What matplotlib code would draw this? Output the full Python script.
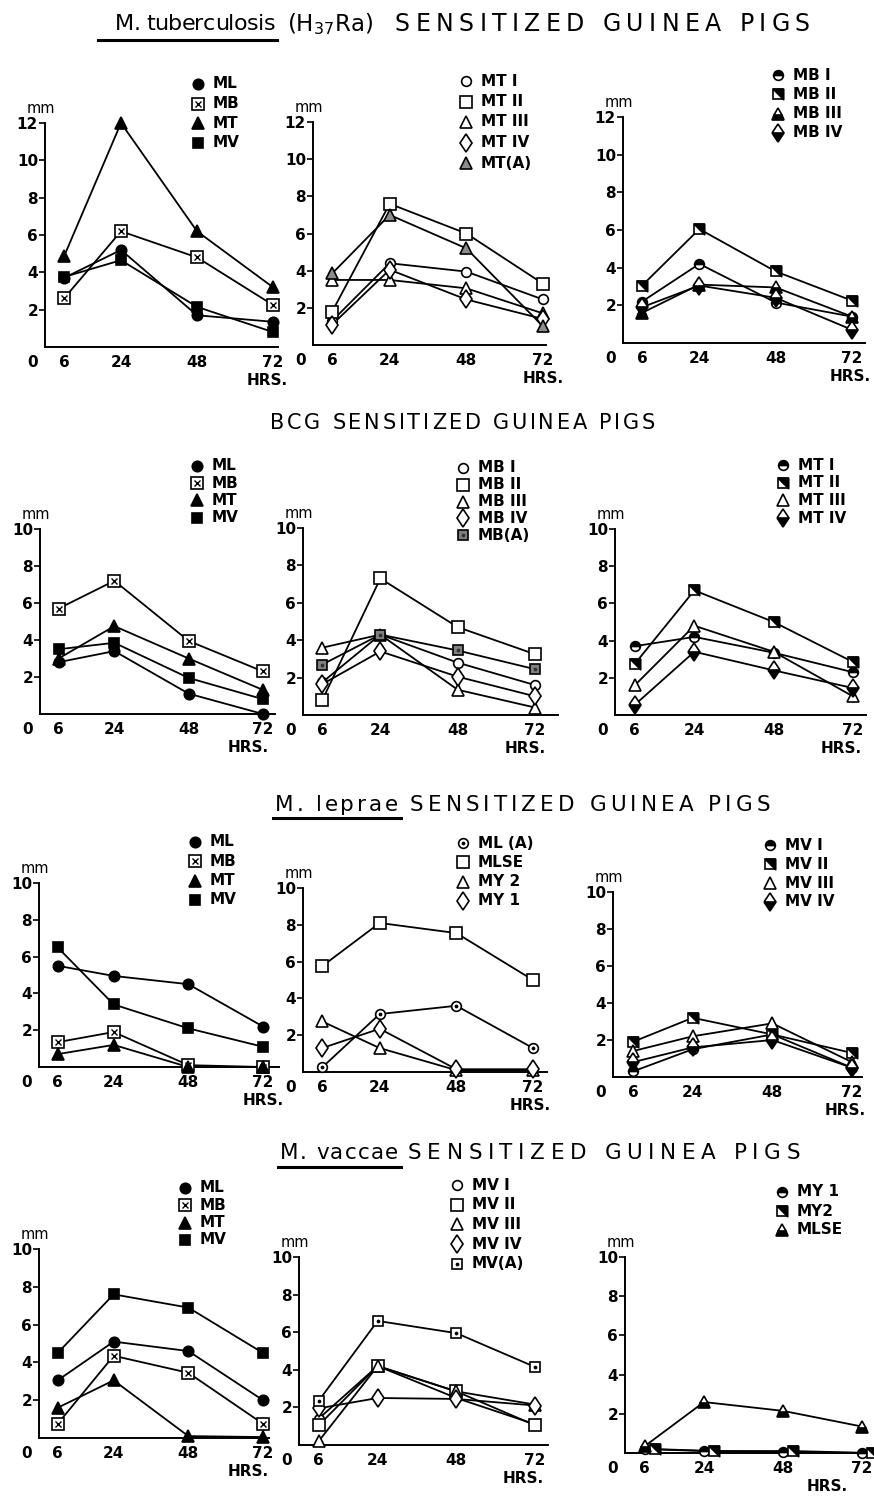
import matplotlib
matplotlib.use("Agg")
import matplotlib.pyplot as plt
from matplotlib.lines import Line2D

W, H = 874, 1501
hours = [6, 24, 48, 72]

# ---- M. tuberculosis (H37Ra) sensitized ----
tb_ml = [3.7, 5.2, 1.7, 1.35]
tb_mb = [2.6, 6.2, 4.8, 2.25]
tb_mt = [4.85, 12.0, 6.2, 3.2]
tb_mv = [3.75, 4.65, 2.15, 0.8]

tb_mt1 = [1.3, 4.4, 3.95, 2.45]
tb_mt2 = [1.8, 7.6, 6.0, 3.3]
tb_mt3 = [3.5, 3.5, 3.05, 1.7]
tb_mt4 = [1.1, 4.05, 2.45, 1.4]
tb_mta = [3.85, 7.0, 5.2, 1.0]

tb_mb1 = [2.2, 4.2, 2.15, 1.4]
tb_mb2 = [3.05, 6.05, 3.8, 2.25]
tb_mb3 = [1.6, 3.1, 2.95, 1.4]
tb_mb4 = [1.9, 3.05, 2.4, 0.7]

# ---- BCG sensitized ----
bcg_ml = [2.8, 3.4, 1.1, 0.0]
bcg_mb = [5.7, 7.2, 3.95, 2.3]
bcg_mt = [3.0, 4.75, 3.0, 1.3]
bcg_mv = [3.5, 3.85, 1.95, 0.8]

bcg_mb1 = [1.75, 4.3, 2.8, 1.6]
bcg_mb2 = [0.8, 7.3, 4.7, 3.25]
bcg_mb3 = [3.6, 4.3, 1.35, 0.4]
bcg_mb4 = [1.65, 3.4, 2.05, 1.0]
bcg_mba = [2.7, 4.3, 3.45, 2.45]

bcg_mt1 = [3.7, 4.2, 3.35, 2.3]
bcg_mt2 = [2.75, 6.7, 5.0, 2.85]
bcg_mt3 = [1.6, 4.8, 3.4, 1.0]
bcg_mt4 = [0.55, 3.4, 2.4, 1.45]

# ---- M. leprae sensitized ----
lep_ml = [5.5, 4.95, 4.5, 2.2]
lep_mb = [1.35, 1.9, 0.1, 0.0]
lep_mt = [0.7, 1.2, 0.0, 0.0]
lep_mv = [6.5, 3.4, 2.1, 1.1]

lep_mla = [0.25, 3.15, 3.6, 1.3]
lep_mlse = [5.75, 8.1, 7.55, 5.0]
lep_my2 = [2.75, 1.3, 0.1, 0.1]
lep_my1 = [1.3, 2.35, 0.15, 0.15]

lep_mv1 = [0.3, 1.5, 2.3, 0.5]
lep_mv2 = [1.9, 3.2, 2.3, 1.3]
lep_mv3 = [1.4, 2.2, 2.9, 0.8]
lep_mv4 = [0.8, 1.6, 2.0, 0.5]

# ---- M. vaccae sensitized ----
vac_ml = [3.05, 5.1, 4.6, 2.0]
vac_mb = [0.75, 4.35, 3.45, 0.75]
vac_mt = [1.6, 3.05, 0.1, 0.05]
vac_mv = [4.5, 7.6, 6.9, 4.5]

vac_mv1 = [1.4, 4.2, 2.5, 1.1]
vac_mv2 = [1.05, 4.2, 2.85, 1.05]
vac_mv3 = [0.2, 4.2, 2.85, 2.15]
vac_mv4 = [1.95, 2.5, 2.45, 2.1]
vac_mva = [2.35, 6.6, 5.95, 4.15]

vac_my1 = [0.2, 0.1, 0.05, 0.0]
vac_my2 = [0.2, 0.1, 0.1, 0.0]
vac_mlse = [0.35, 2.6, 2.15, 1.35]
hours_shift = [9, 27, 51, 75]

STYLES = {
    'fcircle': [dict(marker='o', mfc='k')],
    'fsquare': [dict(marker='s', mfc='k')],
    'ftri': [dict(marker='^', mfc='k', ms=8.5)],
    'xsquare': [dict(marker='s', mfc='w', ms=8), dict(marker='x', ms=4, mew=1.0)],
    'ocircle': [dict(marker='o', mfc='w', ms=7)],
    'osquare': [dict(marker='s', mfc='w', ms=8.5)],
    'otri': [dict(marker='^', mfc='w', ms=8)],
    'odiam': [dict(marker='d', mfc='w', ms=9.5)],
    'gtri': [dict(marker='^', mfc='0.55', ms=8.5)],
    'gsquare': [dict(marker='s', mfc='0.5'), dict(marker='.', ms=3, mfc='0.2', mec='0.2')],
    'dsquare': [dict(marker='s', mfc='w'), dict(marker='.', ms=3)],
    'dcircle': [dict(marker='o', mfc='w', ms=7), dict(marker='.', ms=3)],
    'hcircle': [dict(marker='o', mfc='k', fillstyle='top', mfcalt='w', ms=7)],
    'hsquare': [dict(marker='s', mfc='w'), dict(marker=[(-1, 1), (1, 1), (1, -1), (-1, 1)])],
    'htri': [dict(marker='^', mfc='k', fillstyle='bottom', mfcalt='w', ms=8.5)],
    'hdiam': [dict(marker='d', mfc='k', fillstyle='bottom', mfcalt='w', ms=9.5)],
}

# layout in pixels: y-axis x, x of 72 h, y of 0 mm, y of top tick, top value, x-axis end (h)
# leg: first marker x, first row y, row step; hrs: shift of "HRS." from the 72 label
panels = [
    dict(box=(45, 273, 347, 123, 12, 73.5), leg=(198, 84, 19.5), hrs=-6, series=[
        ('ML', hours, tb_ml, 'fcircle'), ('MB', hours, tb_mb, 'xsquare'),
        ('MT', hours, tb_mt, 'ftri'), ('MV', hours, tb_mv, 'fsquare')]),
    dict(box=(313, 543, 345, 122, 12, 73), leg=(466, 81, 20.5), hrs=0, series=[
        ('MT I', hours, tb_mt1, 'ocircle'), ('MT II', hours, tb_mt2, 'osquare'),
        ('MT III', hours, tb_mt3, 'otri'), ('MT IV', hours, tb_mt4, 'odiam'),
        ('MT(A)', hours, tb_mta, 'gtri')]),
    dict(box=(623, 852, 343, 117, 12, 76), leg=(778, 75, 19.3), hrs=-2, series=[
        ('MB I', hours, tb_mb1, 'hcircle'), ('MB II', hours, tb_mb2, 'hsquare'),
        ('MB III', hours, tb_mb3, 'htri'), ('MB IV', hours, tb_mb4, 'hdiam')]),
    dict(box=(40, 263, 714, 529, 10, 76), leg=(197, 466, 17.2), hrs=-15, series=[
        ('ML', hours, bcg_ml, 'fcircle'), ('MB', hours, bcg_mb, 'xsquare'),
        ('MT', hours, bcg_mt, 'ftri'), ('MV', hours, bcg_mv, 'fsquare')]),
    dict(box=(303, 535, 715, 528, 10, 79), leg=(463, 468, 16.8), hrs=-10, series=[
        ('MB I', hours, bcg_mb1, 'ocircle'), ('MB II', hours, bcg_mb2, 'osquare'),
        ('MB III', hours, bcg_mb3, 'otri'), ('MB IV', hours, bcg_mb4, 'odiam'),
        ('MB(A)', hours, bcg_mba, 'gsquare')]),
    dict(box=(615, 853, 715, 529, 10, 76), leg=(783, 465, 17.7), hrs=-12, series=[
        ('MT I', hours, bcg_mt1, 'hcircle'), ('MT II', hours, bcg_mt2, 'hsquare'),
        ('MT III', hours, bcg_mt3, 'otri'), ('MT IV', hours, bcg_mt4, 'hdiam')]),
    dict(box=(39, 263, 1067, 883, 10, 77), leg=(195, 842, 19.3), hrs=0, series=[
        ('ML', hours, lep_ml, 'fcircle'), ('MB', hours, lep_mb, 'xsquare'),
        ('MT', hours, lep_mt, 'ftri'), ('MV', hours, lep_mv, 'fsquare')]),
    dict(box=(303, 533, 1072, 888, 10, 76.5), leg=(463, 843, 19.3), hrs=-3, series=[
        ('ML (A)', hours, lep_mla, 'dcircle'), ('MLSE', hours, lep_mlse, 'osquare'),
        ('MY 2', hours, lep_my2, 'otri'), ('MY 1', hours, lep_my1, 'odiam')]),
    dict(box=(613, 852, 1077, 892, 10, 75), leg=(770, 845, 19.0), hrs=-7, series=[
        ('MV I', hours, lep_mv1, 'hcircle'), ('MV II', hours, lep_mv2, 'hsquare'),
        ('MV III', hours, lep_mv3, 'otri'), ('MV IV', hours, lep_mv4, 'hdiam')]),
    dict(box=(39, 263, 1438, 1249, 10, 74), leg=(185, 1188, 17.3), hrs=-15, series=[
        ('ML', hours, vac_ml, 'fcircle'), ('MB', hours, vac_mb, 'xsquare'),
        ('MT', hours, vac_mt, 'ftri'), ('MV', hours, vac_mv, 'fsquare')]),
    dict(box=(299, 535, 1445, 1257, 10, 76), leg=(457, 1185, 19.7), hrs=-12, series=[
        ('MV I', hours, vac_mv1, 'ocircle'), ('MV II', hours, vac_mv2, 'osquare'),
        ('MV III', hours, vac_mv3, 'otri'), ('MV IV', hours, vac_mv4, 'odiam'),
        ('MV(A)', hours, vac_mva, 'dsquare')]),
    dict(box=(625, 862, 1453, 1257, 10, 77), leg=(782, 1192, 19.0), hrs=-35, series=[
        ('MY 1', hours, vac_my1, 'hcircle'), ('MY2', hours_shift, vac_my2, 'hsquare'),
        ('MLSE', hours, vac_mlse, 'htri')]),
]

plt.rcParams['font.family'] = 'DejaVu Sans'

fig = plt.figure(figsize=(W / 100, H / 100), dpi=100)
renderer = fig.canvas.get_renderer()


def fx(x):
    return x / W


def fy(y):
    return 1 - y / H


def marker_kw(layer):
    kw = dict(color='k', linestyle='none', ms=7.5, mec='k', mew=1.2)
    kw.update(layer)
    return kw


def text_width(s, **kw):
    t = fig.text(0, 0, s, **kw)
    w = t.get_window_extent(renderer).width
    t.remove()
    return w


def spaced_text(s, x0, x1, y, **kw):
    # letter-spaced text stretched to run from x0 to x1 (pixels)
    space = text_width('M M', **kw) - text_width('MM', **kw)
    widths = [space if ch == ' ' else text_width(ch, **kw) for ch in s]
    gap = (x1 - x0 - sum(widths)) / (len(s) - 1)
    x = x0
    for ch, w in zip(s, widths):
        if ch != ' ':
            fig.text(fx(x), fy(y), ch, ha='left', va='center', **kw)
        x += w + gap


for p in panels:
    x0, x72, y0, ytop_px, ytop, xmax = p['box']
    wpx = (x72 - x0) * xmax / 72.0
    ax = fig.add_axes([fx(x0), fy(y0), wpx / W, (y0 - ytop_px) / H])
    ax.set_xlim(0, xmax)
    ax.set_ylim(0, ytop)
    ax.patch.set_alpha(0)
    for s in ('top', 'right'):
        ax.spines[s].set_visible(False)
    for s in ('left', 'bottom'):
        ax.spines[s].set_linewidth(1.4)
    ax.set_xticks(hours)
    ax.set_xticklabels([str(h) for h in hours])
    ax.set_yticks(list(range(2, ytop + 1, 2)))
    ax.tick_params(axis='x', length=0, pad=6, labelsize=11)
    ax.tick_params(axis='y', length=4, width=1.2, pad=1, labelsize=11)
    for lab in ax.get_xticklabels() + ax.get_yticklabels():
        lab.set_fontweight('bold')
    ax.annotate('0', xy=(0, 0), xytext=(-9, -6), textcoords='offset points',
                ha='center', va='top', fontsize=11, fontweight='bold')
    ax.annotate('mm', xy=(0, ytop), xytext=(-3, 5), textcoords='offset points',
                ha='center', va='bottom', fontsize=10.5)
    ax.annotate('HRS.', xy=(72, 0), xytext=(p['hrs'] * 0.72, -19), textcoords='offset points',
                ha='center', va='top', fontsize=11, fontweight='bold')

    for label, xs, ys, style in p['series']:
        ax.plot(xs, ys, color='k', lw=1.3, zorder=2, clip_on=False)
        for layer in STYLES[style]:
            ax.plot(xs, ys, zorder=3, clip_on=False, **marker_kw(layer))

    # legend: marker column plus labels
    mx, my, dy = p['leg']
    for i, (label, xs, ys, style) in enumerate(p['series']):
        yy = my + i * dy
        for layer in STYLES[style]:
            fig.add_artist(Line2D([fx(mx)], [fy(yy)], transform=fig.transFigure,
                                  **marker_kw(layer)))
        fig.text(fx(mx + 15), fy(yy), label, ha='left', va='center',
                 fontsize=11, fontweight='bold')

# row titles
tk = dict(fontsize=15.5)
spaced_text('M. tuberculosis', 115, 275, 24, fontsize=16)
fig.text(fx(287), fy(24), '(H$_{37}$Ra)', ha='left', va='center', fontsize=16.5)
spaced_text('SENSITIZED GUINEA PIGS', 395, 810, 24, fontsize=17)
spaced_text('BCG SENSITIZED GUINEA PIGS', 270, 655, 423, fontsize=15)
spaced_text('M. leprae', 275, 398, 805, **tk)
spaced_text('SENSITIZED GUINEA PIGS', 410, 770, 805, **tk)
spaced_text('M. vaccae', 280, 398, 1153, **tk)
spaced_text('SENSITIZED GUINEA PIGS', 408, 800, 1153, **tk)

for (xa, xb, yu) in [(98, 277, 40), (273, 401, 818), (278, 401, 1167)]:
    fig.add_artist(Line2D([fx(xa), fx(xb)], [fy(yu), fy(yu)], color='k', lw=2.2,
                          transform=fig.transFigure))

fig.savefig('out.png', dpi=100)
